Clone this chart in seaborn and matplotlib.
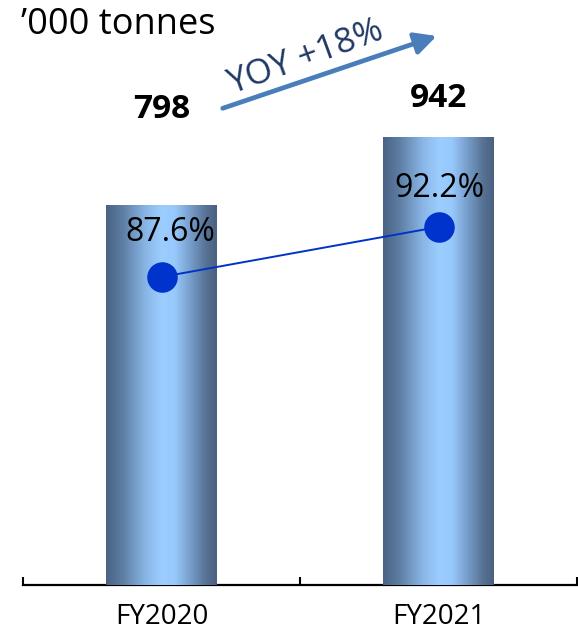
import numpy as np
import pandas as pd
import matplotlib
matplotlib.use("Agg")
import matplotlib.pyplot as plt
from matplotlib.colors import LinearSegmentedColormap
import seaborn as sns

# Data
years = ["FY2020", "FY2021"]
volumes = [798, 942]              # '000 tonnes
utilisation = [87.6, 92.2]        # percent
growth_label = "YOY +18%"
unit_label = "\u2019000 tonnes"

sns.set_theme(style="white")
plt.rcParams["font.family"] = ["Open Sans", "DejaVu Sans"]

df = pd.DataFrame({"year": years, "volume": volumes, "util": utilisation})

W, H = 578, 632
fig = plt.figure(figsize=(W / 100, H / 100), dpi=100)
ax = fig.add_axes([23 / W, 47 / H, 554 / W, 585 / H])

sns.barplot(data=df, x="year", y="volume", width=0.4, ax=ax,
            color="#7aa6d6", saturation=1, zorder=2)

# cylinder-like horizontal shading on each bar
shade = LinearSegmentedColormap.from_list(
    "bar_shade",
    [(0.00, "#4a6284"), (0.15, "#5e7ea4"), (0.35, "#87b4e4"),
     (0.50, "#9ccdff"), (0.62, "#98c9fc"), (0.76, "#789ecb"),
     (0.90, "#577395"), (1.00, "#4a6080")])
grad = np.linspace(0, 1, 256).reshape(1, -1)
for p in ax.patches:
    x0, y0 = p.get_x(), p.get_y()
    w, h = p.get_width(), p.get_height()
    im = ax.imshow(grad, cmap=shade, aspect="auto", zorder=3,
                   extent=[x0, x0 + w, y0, y0 + h], interpolation="bicubic")
    im.set_clip_path(p)
    p.set_facecolor("none")
    p.set_edgecolor("none")

ax.set_xlim(-0.5, 1.5)
ax.set_ylim(0, 1230)

# value labels above bars
label_offsets = [69, 28]
for i, (v, off) in enumerate(zip(volumes, label_offsets)):
    ax.annotate(f"{v}", xy=(i, v), xytext=(0, off), textcoords="offset points",
                ha="center", va="center", fontsize=24, fontweight="bold",
                color="black", zorder=5)

# axis styling: only the baseline with inward ticks at category borders
for side in ["left", "right", "top"]:
    ax.spines[side].set_visible(False)
ax.spines["bottom"].set_linewidth(1.6)
ax.spines["bottom"].set_color("black")
ax.set_yticks([])
ax.set_xlabel("")
ax.set_ylabel("")
ax.set_xticks([-0.5, 0.5, 1.5])
ax.set_xticklabels([])
ax.set_xticks([0, 1], minor=True)
ax.set_xticklabels(years, minor=True, fontsize=20)
ax.tick_params(axis="x", which="major", direction="in", length=6,
               width=1.5, color="black", bottom=True)
ax.tick_params(axis="x", which="minor", length=0, pad=13, labelcolor="black")

# utilisation line on a secondary scale
ax2 = ax.twinx()
sns.lineplot(x=[0, 1], y=utilisation, ax=ax2, color="#0033cc", linewidth=1.4,
             marker="o", markersize=22, markeredgewidth=0,
             markerfacecolor="#0033cc", zorder=4)
ax2.set_ylim(59.26, 113.08)
ax2.set_xlim(-0.5, 1.5)
ax2.set_yticks([])
ax2.set_ylabel("")
for s in ax2.spines.values():
    s.set_visible(False)

pct_offsets = [(6, 32), (1, 28)]
for i, (u, off) in enumerate(zip(utilisation, pct_offsets)):
    ax2.annotate(f"{u:.1f}%", xy=(i, u), xytext=off, textcoords="offset points",
                 ha="center", va="center", fontsize=23, color="black")

# unit caption
fig.text(21 / W, 1 - 25 / H, unit_label, ha="left", va="center",
         fontsize=26, color="black")

# growth arrow and its label
fig.patches.append(matplotlib.patches.FancyArrowPatch(
    (222.7, H - 108.3), (436.7, H - 36), transform=None,
    arrowstyle="-|>,head_length=0.65,head_width=0.33", mutation_scale=20,
    color="#4a7ebb", linewidth=3.4, shrinkA=0, shrinkB=0))
fig.text(306 / W, 1 - 58 / H, growth_label, ha="center", va="center",
         rotation=20, fontsize=25, color="#1f3864", rotation_mode="anchor")

fig.savefig("out.png", dpi=100)
